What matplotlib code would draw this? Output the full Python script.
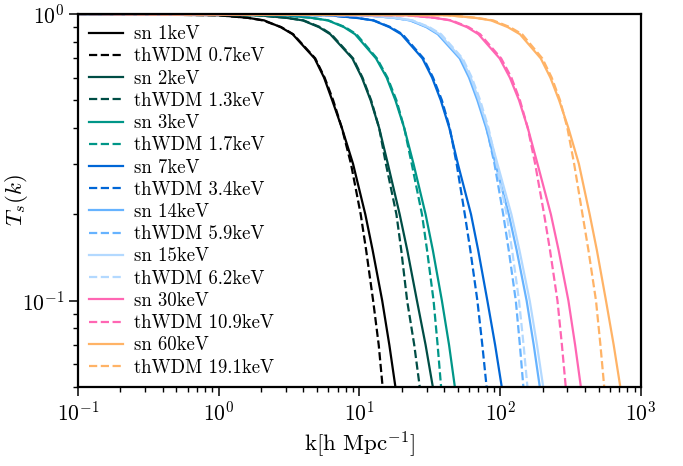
import matplotlib
matplotlib.use("Agg")
import matplotlib.pyplot as plt
from matplotlib.ticker import LogLocator, NullFormatter

plt.rcParams['font.family'] = 'serif'
plt.rcParams['font.serif'] = ['cmr10', 'DejaVu Serif']
plt.rcParams['mathtext.fontset'] = 'cm'
plt.rcParams['axes.formatter.use_mathtext'] = True

# transfer function levels, and k [h/Mpc] where each curve crosses them
T_levels = [1.0, 0.99, 0.97, 0.95, 0.9, 0.85, 0.7, 0.6, 0.5, 0.4, 0.3, 0.2, 0.15, 0.1, 0.07, 0.05]

k_sn1 = [0.1, 1.0, 1.6, 2.1, 2.75, 3.35, 4.8, 5.6, 6.4, 7.5, 9.0, 11.0, 12.4, 14.5, 16.3, 18.0]
k_th07 = [0.1, 0.98, 1.6, 2.05, 2.78, 3.38, 4.85, 5.65, 6.5, 7.5, 8.7, 10.2, 11.15, 12.5, 13.7, 14.6]
k_sn2 = [0.1, 1.9, 3.0, 3.95, 5.15, 6.2, 8.9, 10.4, 12.0, 13.8, 15.9, 19.3, 21.85, 25.6, 29.5, 33.2]
k_th13 = [0.1, 1.85, 3.0, 4.0, 5.25, 6.3, 9.0, 10.5, 12.1, 13.8, 15.4, 18.3, 19.8, 21.8, 24.5, 26.8]
k_sn3 = [0.1, 2.9, 4.5, 5.95, 7.75, 9.3, 13.1, 15.6, 18.0, 20.8, 24.2, 29.5, 33.2, 38.5, 43.3, 47.6]
k_th17 = [0.1, 2.85, 4.5, 6.0, 7.9, 9.5, 13.3, 15.8, 18.3, 20.8, 23.5, 27.8, 30.2, 33.6, 35.9, 38.0]
k_sn7 = [0.1, 6.0, 9.4, 12.5, 16.3, 19.8, 28.0, 32.8, 37.8, 43.5, 50.0, 62.0, 69.7, 81.0, 92.0, 102.5]
k_th34 = [0.1, 5.9, 9.4, 12.6, 16.6, 20.2, 28.5, 33.3, 38.5, 43.8, 49.0, 56.0, 61.3, 68.8, 74.6, 80.0]
k_sn14 = [0.1, 11.0, 17.3, 22.8, 29.8, 36.0, 51.5, 60.0, 68.8, 79.5, 92.5, 115.0, 130.8, 154.0, 173.0, 191.0]
k_th59 = [0.1, 10.9, 17.3, 23.0, 30.3, 36.8, 52.5, 61.0, 70.0, 80.0, 91.0, 105.0, 114.9, 129.0, 137.9, 146.0]
k_sn15 = [0.1, 11.4, 17.8, 23.5, 30.7, 37.0, 53.0, 61.7, 70.6, 81.5, 95.5, 120.0, 136.9, 162.0, 182.5, 202.0]
k_th62 = [0.1, 11.3, 17.9, 23.8, 31.3, 38.0, 54.0, 62.8, 72.0, 82.5, 94.0, 111.0, 121.4, 136.0, 146.5, 156.0]
k_sn30 = [0.1, 21.5, 34.0, 44.0, 58.0, 70.0, 99.0, 117.0, 136.0, 157.0, 184.0, 229.0, 259.8, 305.0, 340.5, 374.0]
k_th109 = [0.1, 21.5, 34.0, 45.0, 59.5, 72.0, 101.5, 120.0, 138.0, 157.0, 177.0, 205.0, 225.7, 255.0, 274.3, 292.0]
k_sn60 = [0.1, 42.0, 66.0, 86.0, 113.0, 138.0, 194.0, 227.0, 262.0, 305.0, 362.0, 432.0, 485.8, 564.0, 640.0, 713.0]
k_th191 = [0.1, 42.0, 67.0, 89.0, 117.0, 143.0, 199.0, 232.0, 266.0, 300.0, 335.0, 384.0, 423.2, 479.0, 515.0, 548.0]

sn_masses = ["1", "2", "3", "7", "14", "15", "30", "60"]
th_masses = ["0.7", "1.3", "1.7", "3.4", "5.9", "6.2", "10.9", "19.1"]
sn_curves = [k_sn1, k_sn2, k_sn3, k_sn7, k_sn14, k_sn15, k_sn30, k_sn60]
th_curves = [k_th07, k_th13, k_th17, k_th34, k_th59, k_th62, k_th109, k_th191]
colores = ['#000000', '#004d45', '#009688', '#0066d6', '#66b3ff', '#b3d9ff', '#ff66b3', '#ffb366']

fig = plt.figure(figsize=(6.83, 4.66), dpi=100)
ax = fig.add_axes([0.1142, 0.1695, 0.8243, 0.8005])

for m_sn, m_th, k_sn, k_th, c in zip(sn_masses, th_masses, sn_curves, th_curves, colores):
    ax.plot(k_sn, T_levels, color=c, lw=1.6, ls='-', label=f"sn {m_sn}keV")
    ax.plot(k_th, T_levels, color=c, lw=1.6, ls='--', label=f"thWDM {m_th}keV")

ax.set_xscale('log')
ax.set_yscale('log')
ax.set_xlim(0.1, 1000)
ax.set_ylim(0.05, 1.0)
ax.yaxis.set_minor_formatter(NullFormatter())
ax.xaxis.set_minor_locator(LogLocator(base=10, subs=range(2, 10), numticks=20))

ax.set_xlabel(r"k[h Mpc$^{-1}$]", fontsize=16.5)
ax.set_ylabel(r"$T_s(k)$", fontsize=16.5)
ax.yaxis.set_label_coords(-0.085, 0.5)
ax.tick_params(which='major', length=6.5, width=1.1, labelsize=15.5, direction='out')
ax.tick_params(which='minor', length=3.5, width=1.0, direction='out')
for sp in ax.spines.values():
    sp.set_linewidth(1.6)

ax.legend(loc='upper left', frameon=False, fontsize=13.5, handlelength=1.8,
          handletextpad=0.6, labelspacing=0.23, borderaxespad=0.3, borderpad=0.3)

plt.savefig("out.png", dpi=100)
